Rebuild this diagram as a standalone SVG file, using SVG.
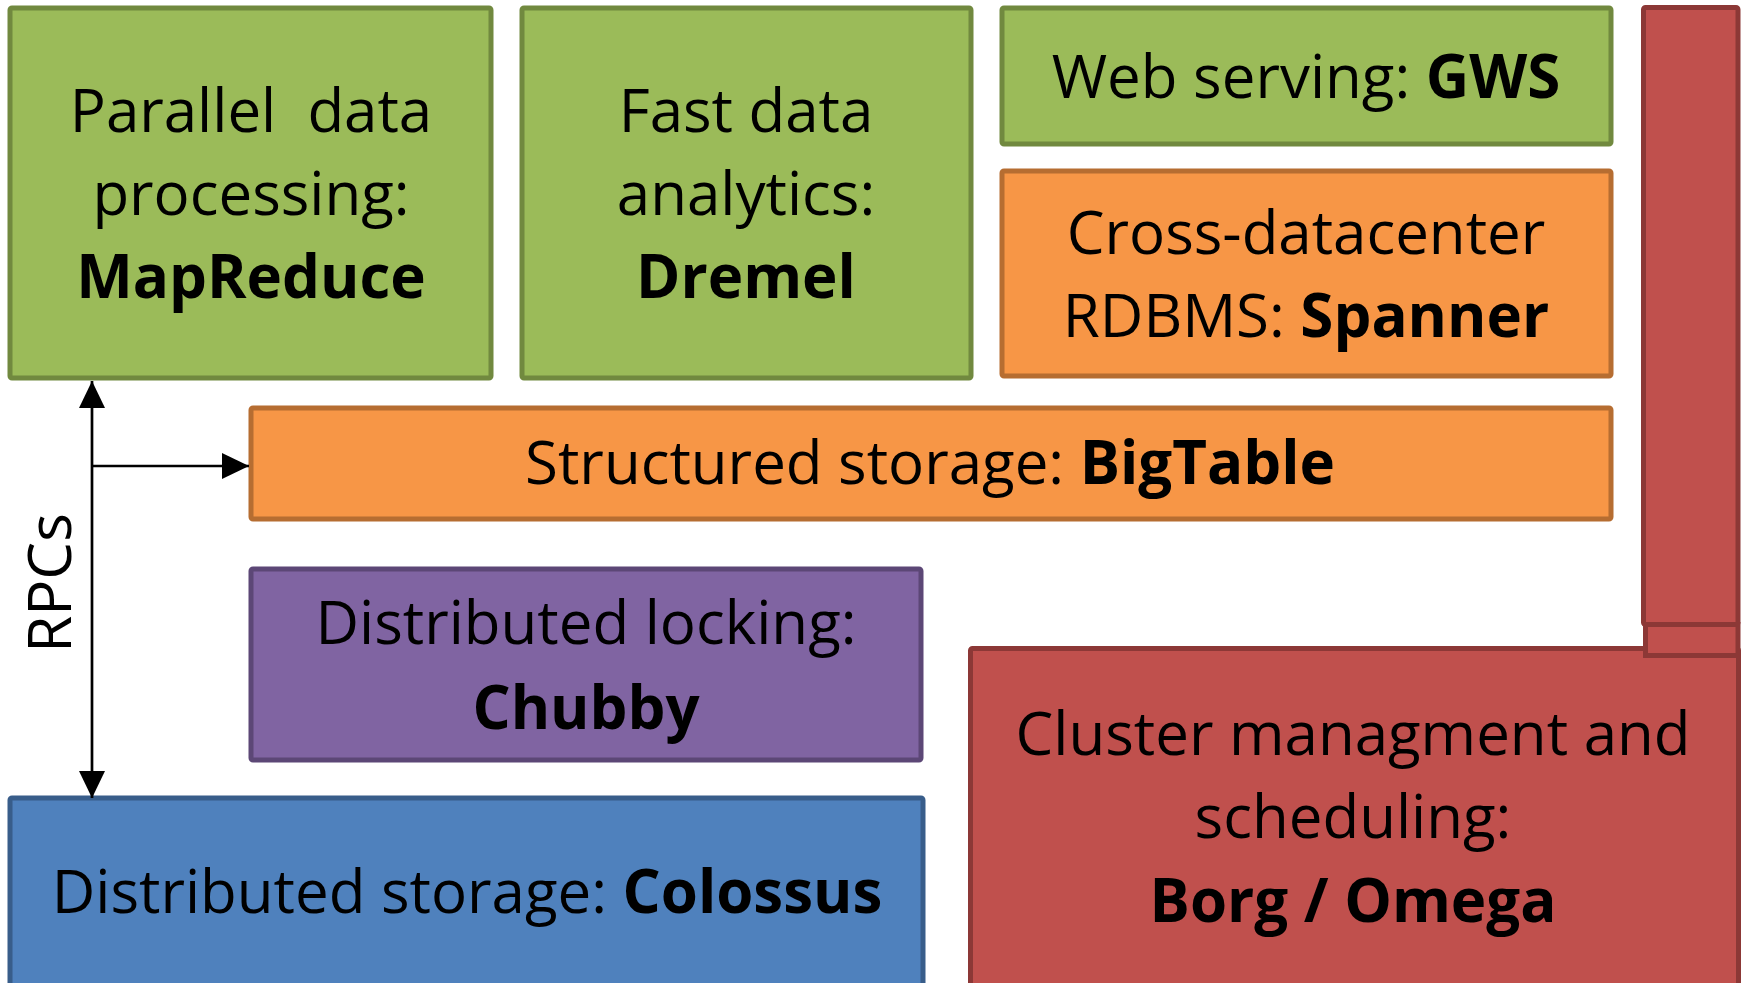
<svg xmlns="http://www.w3.org/2000/svg" width="1746" height="983" viewBox="0 0 1746 983">
<defs>
<style>
.t{font-family:"Open Sans","Noto Sans","Liberation Sans",sans-serif;font-size:60px;fill:#000;text-anchor:middle}
.b{font-weight:bold}
.g{fill:#9BBB59;stroke:#71893F;stroke-width:5}
.o{fill:#F79646;stroke:#B66D31;stroke-width:5}
.p{fill:#8064A2;stroke:#5C4776;stroke-width:5}
.bl{fill:#4F81BD;stroke:#385D8A;stroke-width:5}
.r{fill:#C0504D;stroke:#8C3836;stroke-width:5}
.c{stroke:#000;stroke-width:2.7;fill:none}
</style>
<marker id="ah" markerUnits="userSpaceOnUse" markerWidth="28" markerHeight="28" viewBox="0 0 28 28" refX="27" refY="14" orient="auto-start-reverse">
<path d="M0,1 L27,14 L0,27 Z" fill="#000"/>
</marker>
</defs>
<rect width="1746" height="983" fill="#fff"/>

<g id="mapreduce">
<rect class="g" x="10" y="8" width="481" height="370" rx="2"/>
<text class="t" x="251" y="132" xml:space="preserve">Parallel  data</text>
<text class="t" x="251" y="215">processing:</text>
<text class="t b" x="251" y="298">MapReduce</text>
</g>

<g id="dremel">
<rect class="g" x="522" y="8" width="449" height="370" rx="2"/>
<text class="t" x="746" y="132">Fast data</text>
<text class="t" x="746" y="215">analytics:</text>
<text class="t b" x="746" y="298">Dremel</text>
</g>

<g id="gws">
<rect class="g" x="1002" y="8" width="609" height="136" rx="2"/>
<text class="t" x="1306" y="98">Web serving: <tspan class="b">GWS</tspan></text>
</g>

<g id="spanner">
<rect class="o" x="1002" y="171" width="609" height="205" rx="2"/>
<text class="t" x="1306" y="254">Cross-datacenter</text>
<text class="t" x="1306" y="337">RDBMS: <tspan class="b">Spanner</tspan></text>
</g>

<g id="bigtable">
<rect class="o" x="251" y="408" width="1360" height="111" rx="2"/>
<text class="t" x="930" y="484">Structured storage: <tspan class="b">BigTable</tspan></text>
</g>

<g id="chubby">
<rect class="p" x="251" y="569" width="670" height="191" rx="2"/>
<text class="t" x="586" y="644">Distributed locking:</text>
<text class="t b" x="586" y="729">Chubby</text>
</g>

<g id="colossus">
<rect class="bl" x="10" y="798" width="913" height="200" rx="2"/>
<text class="t" x="467" y="913">Distributed storage: <tspan class="b">Colossus</tspan></text>
</g>

<g id="borg">
<rect class="r" x="970.5" y="648.5" width="768" height="350" rx="2"/>
<rect class="r" x="1643.5" y="7.5" width="94.5" height="617" rx="2"/>
<rect class="r" x="1645.5" y="624.5" width="92.5" height="31"/>
<text class="t" x="1353" y="755">Cluster managment and</text>
<text class="t" x="1353" y="838">scheduling:</text>
<text class="t b" x="1353" y="922">Borg / Omega</text>
</g>

<g id="connectors">
<line class="c" x1="92" y1="381" x2="92" y2="798" marker-start="url(#ah)" marker-end="url(#ah)"/>
<line class="c" x1="92" y1="466" x2="249" y2="466" marker-end="url(#ah)"/>
</g>

<g id="rpcs-label">
<text class="t" transform="translate(71,583) rotate(-90)" x="0" y="0">RPCs</text>
</g>
</svg>
